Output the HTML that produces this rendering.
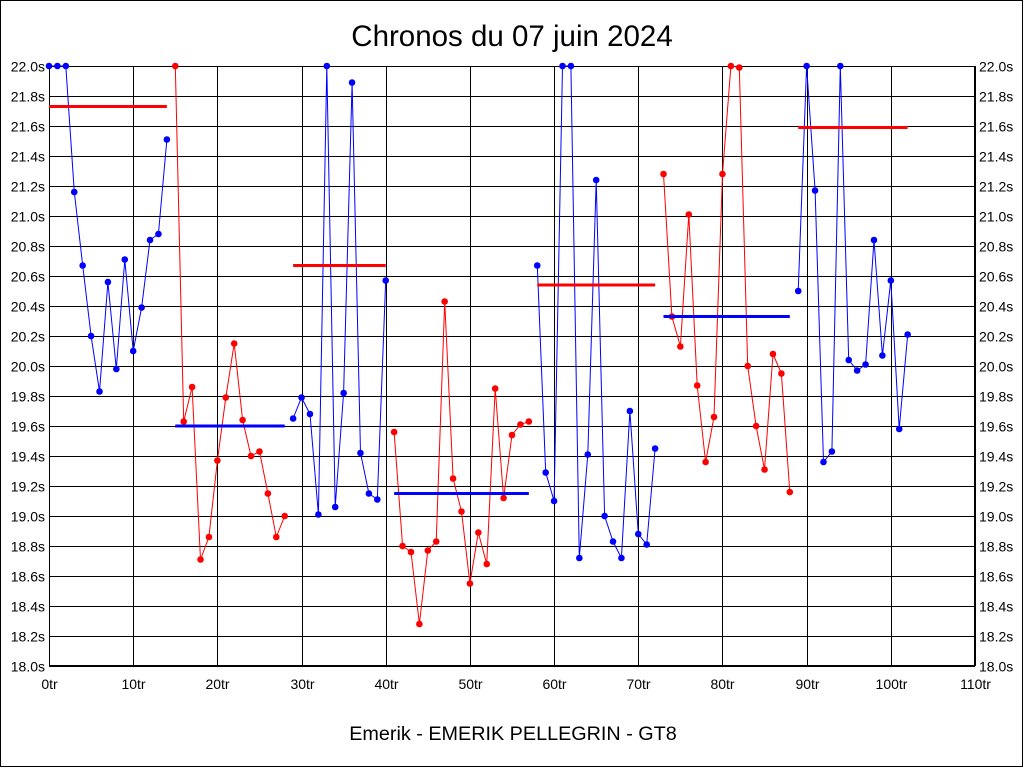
<!DOCTYPE html>
<html><head><meta charset="utf-8"><style>
html,body{margin:0;padding:0;background:#fff}
svg{display:block}
text{font-family:"Liberation Sans",sans-serif}
</style></head><body>
<svg id="s" width="1024" height="768" xmlns="http://www.w3.org/2000/svg">
<rect x="0.5" y="0.5" width="1022" height="766" fill="#fff" stroke="#000"/>
<text x="512" y="46" font-size="29.5" text-anchor="middle">Chronos du 07 juin 2024</text>
<text x="513" y="740" font-size="19.8" text-anchor="middle">Emerik - EMERIK PELLEGRIN - GT8</text>
<g id="g"></g>
</svg>
<script>
const NS="http://www.w3.org/2000/svg",g=document.getElementById('g');
const X=i=>49+i*926/110, Y=v=>66+(22-v)*150;
function el(t,a,txt){const e=document.createElementNS(NS,t);for(const k in a)e.setAttribute(k,a[k]);if(txt!==undefined)e.textContent=txt;g.appendChild(e);return e;}
for(let k=0;k<=20;k++){const v=18+k*0.2,y=Math.round(Y(v))+0.5;
el('line',{x1:49,x2:975,y1:y,y2:y,stroke:'#000'});
const t=v.toFixed(1)+'s';
el('text',{x:45,y:y+5,'font-size':14,'text-anchor':'end',fill:'#000'},t);
el('text',{x:979,y:y+5,'font-size':14,fill:'#000'},t);}
for(let k=0;k<=11;k++){const x=Math.round(X(k*10))+0.5;
el('line',{x1:x,x2:x,y1:66,y2:666,stroke:'#000'});
el('text',{x:x,y:689,'font-size':14,'text-anchor':'middle'},(k*10)+'tr');}
el('rect',{x:49.5,y:66.5,width:925,height:599,fill:'none',stroke:'#000'});
const d=[22,22,22,21.16,20.67,20.2,19.83,20.56,19.98,20.71,20.1,20.39,20.84,20.88,21.51,
22,19.63,19.86,18.71,18.86,19.37,19.79,20.15,19.64,19.4,19.43,19.15,18.86,19.0,
19.65,19.79,19.68,19.01,22,19.06,19.82,21.89,19.42,19.15,19.11,20.57,
19.56,18.8,18.76,18.28,18.77,18.83,20.43,19.25,19.03,18.55,18.89,18.68,19.85,19.12,19.54,19.61,19.63,
20.67,19.29,19.1,22,22,18.72,19.41,21.24,19.0,18.83,18.72,19.7,18.88,18.81,19.45,
21.28,20.33,20.13,21.01,19.87,19.36,19.66,21.28,22,21.99,20.0,19.6,19.31,20.08,19.95,19.16,
20.5,22,21.17,19.36,19.43,22,20.04,19.97,20.01,20.84,20.07,20.57,19.58,20.21];
const segs=[[0,14,'#00f'],[15,28,'#f00'],[29,40,'#00f'],[41,57,'#f00'],[58,72,'#00f'],[73,88,'#f00'],[89,102,'#00f']];
for(const [a,b,c] of segs){let p=[];for(let i=a;i<=b;i++)p.push(X(i).toFixed(1)+','+Y(d[i]).toFixed(1));
el('polyline',{points:p.join(' '),fill:'none',stroke:c,'stroke-width':1});
for(let i=a;i<=b;i++)el('circle',{cx:X(i),cy:Y(d[i]),r:3.3,fill:c});}
const avg=[[0,14,21.73,'#f00'],[15,28,19.6,'#00f'],[29,40,20.67,'#f00'],[41,57,19.15,'#00f'],[58,72,20.54,'#f00'],[73,88,20.33,'#00f'],[89,102,21.59,'#f00']];
for(const [a,b,v,c] of avg)el('line',{x1:X(a),x2:X(b),y1:Y(v),y2:Y(v),stroke:c,'stroke-width':3});
</script>
</body></html>
